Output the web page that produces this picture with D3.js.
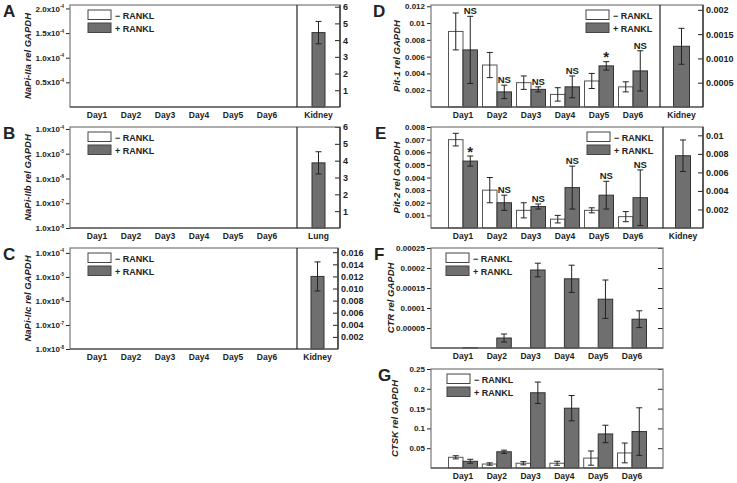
<!DOCTYPE html>
<html>
<head>
<meta charset="utf-8">
<script src="https://cdn.jsdelivr.net/npm/d3@7"></script>
<style>
  body { margin: 0; background: #fff; }
  svg text { font-family: "Liberation Sans", Arial, sans-serif; font-weight: bold; fill: #222; }
</style>
</head>
<body>
<script>
// ---- data ----
const days = ["Day1", "Day2", "Day3", "Day4", "Day5", "Day6"];

// A-C: only the reference tissue bar (right axis)
const naPi2aKidney = [4.45, 0.67];
const naPi2bLung = [3.87, 0.66];
const naPi2cKidney = [0.0120, 0.0024];

// D Pit-1
const pit1Minus = [0.0090, 0.0050, 0.0029, 0.0015, 0.0031, 0.0024];
const pit1MinusSd = [0.0022, 0.0015, 0.0008, 0.0008, 0.0009, 0.0006];
const pit1Plus = [0.0068, 0.0018, 0.0021, 0.0024, 0.0049, 0.0043];
const pit1PlusSd = [0.0040, 0.0008, 0.0003, 0.0013, 0.0005, 0.0024];
const pit1Kidney = [0.00125, 0.00037];
const pit1Marks = ["NS", "NS", "NS", "NS", "*", "NS"];

// E Pit-2
const pit2Minus = [0.0070, 0.0030, 0.0014, 0.0007, 0.0014, 0.0009];
const pit2MinusSd = [0.0005, 0.0010, 0.0006, 0.0003, 0.0002, 0.0004];
const pit2Plus = [0.0053, 0.0020, 0.0017, 0.0032, 0.0026, 0.0024];
const pit2PlusSd = [0.0004, 0.0006, 0.0002, 0.0017, 0.0011, 0.0022];
const pit2Kidney = [0.0078, 0.0017];
const pit2Marks = ["*", "NS", "NS", "NS", "NS", "NS"];

// F CTR
const ctrMinus = [0, 0, 0, 0, 0, 0];
const ctrMinusSd = [0, 0, 0, 0, 0, 0];
const ctrPlus = [0.0000008, 0.000025, 0.000195, 0.000173, 0.000122, 0.000072];
const ctrPlusSd = [0, 0.00001, 0.000017, 0.000034, 0.000048, 0.000021];

// G CTSK
const ctskMinus = [0.027, 0.010, 0.012, 0.012, 0.025, 0.038];
const ctskMinusSd = [0.004, 0.003, 0.004, 0.005, 0.018, 0.025];
const ctskPlus = [0.017, 0.041, 0.190, 0.151, 0.086, 0.092];
const ctskPlusSd = [0.005, 0.004, 0.027, 0.032, 0.022, 0.060];

// tick values / labels
const aLeftTicks = [0.5e-4, 1.0e-4, 1.5e-4, 2.0e-4];
const aLeftLabels = [["0.5x10", "-4"], ["1.0x10", "-4"], ["1.5x10", "-4"], ["2.0x10", "-4"]];
const abRightTicks = [1, 2, 3, 4, 5, 6];
const logTicks = [1e-8, 1e-7, 1e-6, 1e-5, 1e-4];
const logLabels = [["1.0x10", "-8"], ["1.0x10", "-7"], ["1.0x10", "-6"], ["1.0x10", "-5"], ["1.0x10", "-4"]];
const cRightTicks = [0.002, 0.004, 0.006, 0.008, 0.010, 0.012, 0.014, 0.016];
const cRightLabels = ["0.002", "0.004", "0.006", "0.008", "0.010", "0.012", "0.014", "0.016"];
const dLeftTicks = [0.002, 0.004, 0.006, 0.008, 0.01, 0.012];
const dRightTicks = [0.0005, 0.0010, 0.0015, 0.002];
const dRightLabels = ["0.0005", "0.0010", "0.0015", "0.002"];
const eLeftTicks = [0.001, 0.002, 0.003, 0.004, 0.005, 0.006, 0.007, 0.008];
const eRightTicks = [0.002, 0.004, 0.006, 0.008, 0.01];
const fLeftTicks = [0.00005, 0.0001, 0.00015, 0.0002, 0.00025];
const gLeftTicks = [0.05, 0.1, 0.15, 0.2, 0.25];

const svg = d3.select("body").append("svg")
  .attr("width", 737).attr("height", 483);

const GRAY = "#6f6f6f";
const FRAME = "#777";
const DARK = "#222";

function drawPanel(p) {
  const g = svg.append("g");

  // left scale
  let yL;
  if (p.log) {
    yL = d3.scaleLog().domain(p.leftDomain).range([p.y1, p.y0]);
  } else {
    yL = d3.scaleLinear().domain(p.leftDomain).range([p.y1, p.y0]);
  }
  const x = d3.scalePoint().domain(days).range([p.day1, p.day6]);

  // left axis
  const axL = d3.axisLeft(yL).tickValues(p.leftTicks).tickSize(4).tickSizeOuter(0).tickPadding(2)
    .tickFormat((d, i) => Array.isArray(p.leftLabels[i]) ? p.leftLabels[i][0] : p.leftLabels[i]);
  const gl = g.append("g").attr("transform", "translate(" + p.x0 + ",0)").call(axL);
  gl.select(".domain").remove();
  gl.selectAll("line").attr("stroke", DARK);
  gl.selectAll("text").style("font-size", "8px").attr("fill", DARK);
  if (Array.isArray(p.leftLabels[0])) {
    gl.selectAll("text").each(function(d, i) {
      d3.select(this).append("tspan")
        .attr("dy", "-3.5px").style("font-size", "4.5px").text(p.leftLabels[i][1]);
    });
  }

  // right inner ticks (F, G)
  if (p.mirrorTicks) {
    const gm = g.append("g").attr("transform", "translate(" + p.x1 + ",0)")
      .call(d3.axisRight(yL).tickValues(p.leftTicks).tickSize(-5).tickSizeOuter(0).tickFormat(""));
    gm.select(".domain").remove();
    gm.selectAll("line").attr("stroke", DARK);
  }

  // x labels
  g.selectAll(".xl").data(days).join("text")
    .attr("x", d => x(d)).attr("y", p.y1 + 11)
    .attr("text-anchor", "middle").style("font-size", "8.5px").text(d => d);

  // bars
  const bw = 14.5;
  function bars(vals, sds, side, fill) {
    if (!vals) return;
    vals.forEach((v, i) => {
      if (v <= 0) return;
      const cx = x(days[i]);
      const bx = side < 0 ? cx - bw : cx;
      g.append("rect").attr("x", bx).attr("y", yL(v))
        .attr("width", bw).attr("height", p.y1 - yL(v))
        .attr("fill", fill).attr("stroke", side < 0 ? "#555" : "#333").attr("stroke-width", 1);
      const sd = sds[i];
      if (sd > 0) {
        const m = bx + bw / 2;
        const t = yL(v + sd), b = yL(Math.max(v - sd, 1e-12));
        g.append("line").attr("x1", m).attr("x2", m).attr("y1", t).attr("y2", b).attr("stroke", DARK);
        [t, b].forEach(yy => g.append("line").attr("x1", m - 3).attr("x2", m + 3)
          .attr("y1", yy).attr("y2", yy).attr("stroke", DARK));
      }
    });
  }
  bars(p.minus, p.minusSd, -1, "#fff");
  bars(p.plus, p.plusSd, 1, GRAY);

  // significance marks
  if (p.marks) {
    p.marks.forEach((m, i) => {
      const cx = x(days[i]) + bw / 2;
      const top = yL(p.plus[i] + p.plusSd[i]);
      g.append("text").attr("x", cx).attr("y", m === "*" ? top + 0.5 : top - 2)
        .attr("text-anchor", "middle").style("font-size", m === "*" ? "15px" : "9.5px").text(m);
    });
  }

  // right-hand reference tissue
  if (p.divider) {
    const yR = d3.scaleLinear().domain(p.rightDomain).range([p.y1, p.y0]);
    const axR = d3.axisRight(yR).tickValues(p.rightTicks).tickSize(-5).tickSizeOuter(0).tickPadding(3)
      .tickFormat((d, i) => p.rightLabels ? p.rightLabels[i] : d);
    const gr = g.append("g").attr("transform", "translate(" + p.x1 + ",0)").call(axR);
    gr.select(".domain").remove();
    gr.selectAll("line").attr("stroke", DARK);
    gr.selectAll("text").style("font-size", "9px").attr("fill", DARK);

    const cx = (p.divider + p.x1) / 2;
    const v = p.ref[0], sd = p.ref[1];
    const rw = p.refWidth;
    g.append("rect").attr("x", cx - rw / 2).attr("y", yR(v))
      .attr("width", rw).attr("height", p.y1 - yR(v))
      .attr("fill", GRAY).attr("stroke", "#333");
    g.append("line").attr("x1", cx).attr("x2", cx).attr("y1", yR(v + sd)).attr("y2", yR(v - sd)).attr("stroke", DARK);
    [yR(v + sd), yR(v - sd)].forEach(yy => g.append("line").attr("x1", cx - 3).attr("x2", cx + 3)
      .attr("y1", yy).attr("y2", yy).attr("stroke", DARK));
    g.append("text").attr("x", cx).attr("y", p.y1 + 11).attr("text-anchor", "middle")
      .style("font-size", "8.5px").text(p.refName);
  }

  // frame
  g.append("rect").attr("x", p.x0).attr("y", p.y0).attr("width", p.x1 - p.x0).attr("height", p.y1 - p.y0)
    .attr("fill", "none").attr("stroke", FRAME).attr("stroke-width", 1.2);
  g.append("line").attr("x1", p.x0).attr("x2", p.x1).attr("y1", p.y1).attr("y2", p.y1)
    .attr("stroke", "#444").attr("stroke-width", 1.2);
  if (p.divider) {
    g.append("line").attr("x1", p.divider).attr("x2", p.divider).attr("y1", p.y0).attr("y2", p.y1)
      .attr("stroke", DARK).attr("stroke-width", 1.2);
    g.append("line").attr("x1", p.x1).attr("x2", p.x1).attr("y1", p.y0).attr("y2", p.y1)
      .attr("stroke", DARK).attr("stroke-width", 1.2);
  }

  // legend
  const lx = p.legendX, ly = p.y0 + 5;
  [["\u2212 RANKL", "#fff"], ["+ RANKL", GRAY]].forEach((L, i) => {
    g.append("rect").attr("x", lx).attr("y", ly + i * 13).attr("width", 23).attr("height", 9.5)
      .attr("fill", L[1]).attr("stroke", "#444");
    g.append("text").attr("x", lx + 27).attr("y", ly + i * 13 + 8.5)
      .style("font-size", "9px").text(L[0]);
  });

  // y title
  g.append("text").attr("transform", "translate(" + p.titleX + "," + ((p.y0 + p.y1) / 2) + ") rotate(-90)")
    .attr("text-anchor", "middle").style("font-size", "9.5px").style("font-style", "italic").text(p.title);

  // panel letter
  g.append("text").attr("x", p.letterX).attr("y", p.y0 + 12)
    .style("font-size", "17px").text(p.letter);
}

drawPanel({ letter: "A", letterX: 3, title: "NaPi-IIa rel GAPDH", titleX: 31,
  x0: 70, x1: 340, divider: 297, y0: 5, y1: 107, day1: 97, day6: 267,
  leftDomain: [0, 2.07e-4], leftTicks: aLeftTicks, leftLabels: aLeftLabels,
  rightDomain: [0, 6.1], rightTicks: abRightTicks, ref: naPi2aKidney, refName: "Kidney", refWidth: 13,
  legendX: 88 });

drawPanel({ letter: "B", letterX: 3, title: "NaPi-IIb rel GAPDH", titleX: 31, log: true,
  x0: 70, x1: 340, divider: 297, y0: 127, y1: 228, day1: 97, day6: 267,
  leftDomain: [1e-8, 1.2e-4], leftTicks: logTicks, leftLabels: logLabels,
  rightDomain: [0, 6], rightTicks: abRightTicks, ref: naPi2bLung, refName: "Lung", refWidth: 13,
  legendX: 88 });

drawPanel({ letter: "C", letterX: 3, title: "NaPi-IIc rel GAPDH", titleX: 31, log: true,
  x0: 70, x1: 338, divider: 297, y0: 248, y1: 349, day1: 97, day6: 267,
  leftDomain: [1e-8, 1.6e-4], leftTicks: logTicks, leftLabels: logLabels,
  rightDomain: [0, 0.0167], rightTicks: cRightTicks, rightLabels: cRightLabels, ref: naPi2cKidney, refName: "Kidney", refWidth: 13,
  legendX: 88 });

drawPanel({ letter: "D", letterX: 373, title: "Pit-1 rel GAPDH", titleX: 400,
  x0: 431, x1: 703, divider: 660, y0: 5, y1: 107, day1: 463, day6: 633,
  leftDomain: [0, 0.01215], leftTicks: dLeftTicks, leftLabels: ["0.002", "0.004", "0.006", "0.008", "0.01", "0.012"],
  rightDomain: [0, 0.0021], rightTicks: dRightTicks, rightLabels: dRightLabels, ref: pit1Kidney, refName: "Kidney", refWidth: 16,
  minus: pit1Minus, minusSd: pit1MinusSd, plus: pit1Plus, plusSd: pit1PlusSd, marks: pit1Marks,
  legendX: 586 });

drawPanel({ letter: "E", letterX: 375, title: "Pit-2 rel GAPDH", titleX: 400,
  x0: 431, x1: 703, divider: 663, y0: 127, y1: 228, day1: 463, day6: 633,
  leftDomain: [0, 0.008], leftTicks: eLeftTicks, leftLabels: ["0.001", "0.002", "0.003", "0.004", "0.005", "0.006", "0.007", "0.008"],
  rightDomain: [0, 0.0109], rightTicks: eRightTicks, rightLabels: ["0.002", "0.004", "0.006", "0.008", "0.01"], ref: pit2Kidney, refName: "Kidney", refWidth: 15,
  minus: pit2Minus, minusSd: pit2MinusSd, plus: pit2Plus, plusSd: pit2PlusSd, marks: pit2Marks,
  legendX: 587 });

drawPanel({ letter: "F", letterX: 374, title: "CTR rel GAPDH", titleX: 394,
  x0: 431, x1: 663, y0: 248, y1: 348, day1: 463, day6: 632, mirrorTicks: true,
  leftDomain: [0, 0.00025], leftTicks: fLeftTicks, leftLabels: ["0.00005", "0.0001", "0.00015", "0.0002", "0.00025"],
  minus: ctrMinus, minusSd: ctrMinusSd, plus: ctrPlus, plusSd: ctrPlusSd,
  legendX: 446 });

drawPanel({ letter: "G", letterX: 378, title: "CTSK rel GAPDH", titleX: 398,
  x0: 431, x1: 663, y0: 369, y1: 468, day1: 463, day6: 632, mirrorTicks: true,
  leftDomain: [0, 0.25], leftTicks: gLeftTicks, leftLabels: ["0.05", "0.1", "0.15", "0.2", "0.25"],
  minus: ctskMinus, minusSd: ctskMinusSd, plus: ctskPlus, plusSd: ctskPlusSd,
  legendX: 447 });
</script>
</body>
</html>
